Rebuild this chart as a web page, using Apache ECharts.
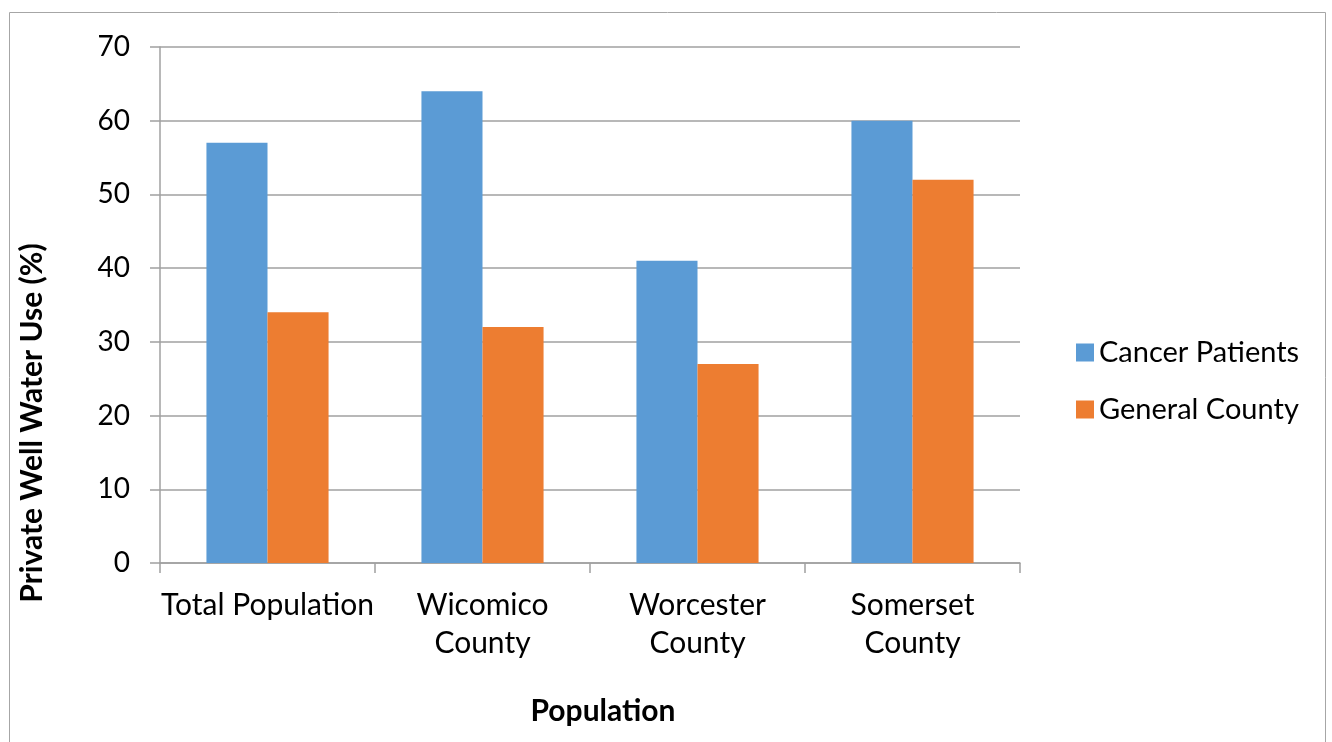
<!DOCTYPE html>
<html><head><meta charset="utf-8">
<style>html,body{margin:0;padding:0;background:#fff}#c{width:1332px;height:742px}</style>
<script src="https://cdn.jsdelivr.net/npm/echarts@6/dist/echarts.min.js"></script>
</head><body><div id="c"></div>
<script>
const categories = ['Total Population', 'Wicomico\nCounty', 'Worcester\nCounty', 'Somerset\nCounty'];
const cancerPatients = [57, 64, 41, 60];
const generalCounty = [34, 32, 27, 52];
const seriesNames = ['Cancer Patients', 'General County'];
const yTitle = 'Private Well Water Use (%)';
const xTitle = 'Population';

const FONT = 'Lato';
const chart = echarts.init(document.getElementById('c'));
chart.setOption({
  animation: false,
  backgroundColor: '#fff',
  textStyle: { fontFamily: FONT },
  grid: { left: 160, right: 312, top: 47, bottom: 179, containLabel: false },
  graphic: [
    { type: 'rect', shape: { x: 9.5, y: 12.5, width: 1316, height: 760 }, style: { fill: 'none', stroke: '#a6a6a6', lineWidth: 1 }, silent: true },
    { type: 'text', x: 32, y: 423, rotation: Math.PI / 2, style: { text: yTitle, font: 'bold 30px ' + FONT, fill: '#000', align: 'center', verticalAlign: 'middle' } },
    { type: 'text', x: 603, y: 711, style: { text: xTitle, font: 'bold 30px ' + FONT, fill: '#000', align: 'center', verticalAlign: 'middle' } }
  ],
  legend: {
    orient: 'vertical', left: 1071, top: 333,
    itemWidth: 18, itemHeight: 18, itemGap: 28,
    icon: 'rect',
    textStyle: { fontSize: 29, fontFamily: FONT, color: '#000', padding: [0, 0, 0, 0] },
    data: seriesNames
  },
  xAxis: {
    type: 'category', data: categories,
    axisLine: { lineStyle: { color: '#a0a0a0', width: 1.5 } },
    axisTick: { show: true, length: 10, lineStyle: { color: '#a0a0a0', width: 1.5 }, alignWithLabel: false },
    axisLabel: { fontSize: 30, fontFamily: FONT, color: '#000', lineHeight: 38, margin: 23, interval: 0 }
  },
  yAxis: {
    type: 'value', min: 0, max: 70, interval: 10,
    axisLine: { show: true, lineStyle: { color: '#a0a0a0', width: 1.5 } },
    axisTick: { show: true, length: 10, lineStyle: { color: '#a0a0a0', width: 1.5 } },
    splitLine: { lineStyle: { color: '#a0a0a0', width: 1.5 } },
    axisLabel: { fontSize: 28, fontFamily: FONT, color: '#000', margin: 30 }
  },
  series: [
    { name: seriesNames[0], type: 'bar', data: cancerPatients, barWidth: '28.4%', barGap: '0%', itemStyle: { color: '#5B9BD5' } },
    { name: seriesNames[1], type: 'bar', data: generalCounty, barWidth: '28.4%', barGap: '0%', itemStyle: { color: '#ED7D31' } }
  ]
});
</script></body></html>
